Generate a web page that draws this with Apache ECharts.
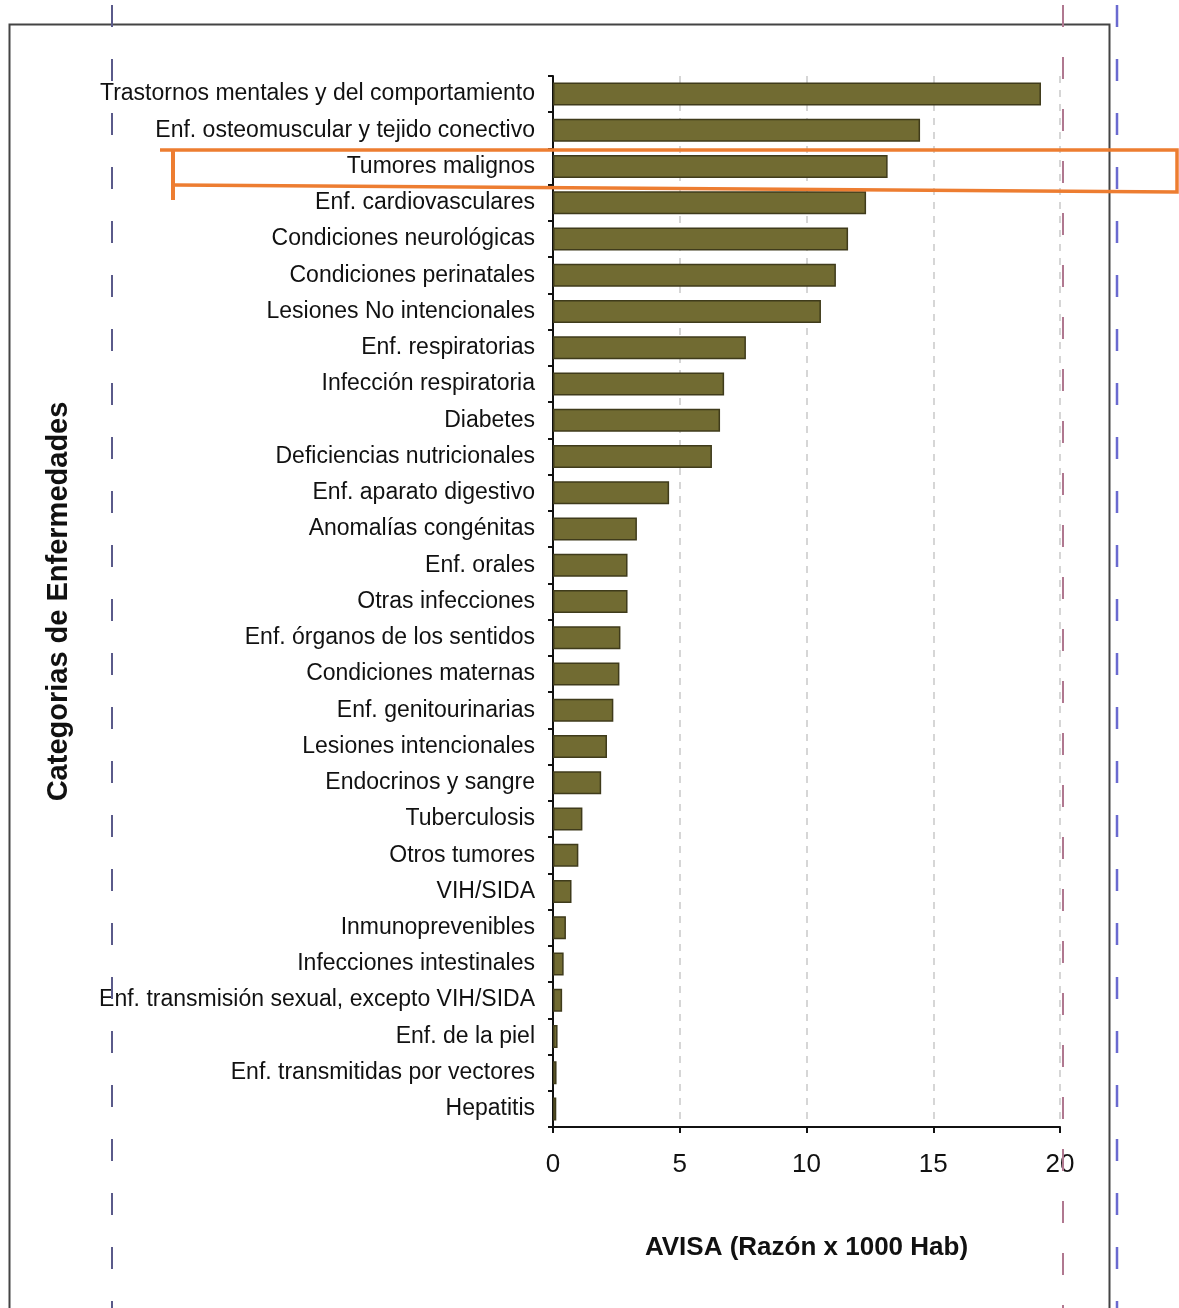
<!DOCTYPE html>
<html><head><meta charset="utf-8">
<script src="https://cdn.jsdelivr.net/npm/echarts@6/dist/echarts.min.js"></script>
<style>html,body{margin:0;padding:0;background:#fff}#c{width:1179px;height:1308px}</style>
</head><body><div id="c"></div>
<script>
const categories = [
  "Trastornos mentales y del comportamiento",
  "Enf. osteomuscular y tejido conectivo",
  "Tumores malignos",
  "Enf. cardiovasculares",
  "Condiciones neurológicas",
  "Condiciones perinatales",
  "Lesiones No intencionales",
  "Enf. respiratorias",
  "Infección respiratoria",
  "Diabetes",
  "Deficiencias nutricionales",
  "Enf. aparato digestivo",
  "Anomalías congénitas",
  "Enf. orales",
  "Otras infecciones",
  "Enf. órganos de los sentidos",
  "Condiciones maternas",
  "Enf. genitourinarias",
  "Lesiones intencionales",
  "Endocrinos y sangre",
  "Tuberculosis",
  "Otros tumores",
  "VIH/SIDA",
  "Inmunoprevenibles",
  "Infecciones intestinales",
  "Enf. transmisión sexual, excepto VIH/SIDA",
  "Enf. de la piel",
  "Enf. transmitidas por vectores",
  "Hepatitis"
];
const avisa = [19.25, 14.48, 13.2, 12.35, 11.64, 11.16, 10.57, 7.61, 6.75, 6.59, 6.27, 4.58, 3.31, 2.94, 2.94, 2.66, 2.62, 2.38, 2.13, 1.9, 1.16, 1.0, 0.73, 0.51, 0.42, 0.36, 0.18, 0.14, 0.13];
const xTicks = { min: 0, max: 20, interval: 5 };
const xName = "AVISA (Razón x 1000 Hab)";
const yName = "Categorias de Enfermedades";

const FONT = "'Liberation Sans', Arial, sans-serif";
const chart = echarts.init(document.getElementById('c'));
chart.setOption({
  backgroundColor: '#fff',
  animation: false,
  grid: { left: 553, top: 76, width: 507, height: 1051, containLabel: false },
  xAxis: {
    type: 'value', min: xTicks.min, max: xTicks.max, interval: xTicks.interval,
    name: xName, nameLocation: 'middle', nameGap: 108,
    nameTextStyle: { fontFamily: FONT, fontWeight: 'bold', fontSize: 26, color: '#111' },
    axisLine: { show: true, lineStyle: { color: '#111', width: 2 } },
    axisTick: { show: true, length: 6, lineStyle: { color: '#111', width: 2 } },
    axisLabel: { fontFamily: FONT, fontSize: 26, color: '#111', margin: 25 },
    splitLine: { show: true, lineStyle: { color: '#c9c9c9', type: [7, 7], width: 1.5 } }
  },
  yAxis: {
    type: 'category', data: categories, inverse: true,
    name: yName, nameLocation: 'middle', nameGap: 480,
    nameTextStyle: { fontFamily: FONT, fontWeight: 'bold', fontSize: 29, color: '#111' },
    axisLine: { show: true, lineStyle: { color: '#111', width: 2 } },
    axisTick: { show: true, length: 5, lineStyle: { color: '#111', width: 2 } },
    axisLabel: { fontFamily: FONT, fontSize: 23, color: '#111', margin: 18, padding: [4, 0, 0, 0] },
    splitLine: { show: false }
  },
  series: [{
    type: 'bar', data: avisa, barWidth: 23,
    itemStyle: { color: '#716b32', borderColor: '#3f3b1b', borderWidth: 1.5 }
  }],
  graphic: [
    { type: 'rect', shape: { x: 9.5, y: 24.5, width: 1100, height: 1300 }, style: { fill: null, stroke: '#444', lineWidth: 2 }, z: 1 },
    { type: 'line', shape: { x1: 112, y1: 5, x2: 112, y2: 1308 }, style: { stroke: '#5a5a8a', lineWidth: 2, lineDash: [22, 32] }, z: 2 },
    { type: 'line', shape: { x1: 1117, y1: 5, x2: 1117, y2: 1308 }, style: { stroke: '#6a6ad0', lineWidth: 2.5, lineDash: [22, 32] }, z: 2 },
    { type: 'line', shape: { x1: 1063, y1: 5, x2: 1063, y2: 1308 }, style: { stroke: '#b07890', lineWidth: 2, lineDash: [22, 30] }, z: 2 },
    { type: 'polyline', shape: { points: [[160, 150], [1177, 150], [1177, 192], [175, 185]] }, style: { stroke: '#ED7D31', lineWidth: 3.5, fill: null }, z: 10 },
    { type: 'line', shape: { x1: 173, y1: 150, x2: 173, y2: 200 }, style: { stroke: '#ED7D31', lineWidth: 4 }, z: 10 }
  ]
});
</script></body></html>
